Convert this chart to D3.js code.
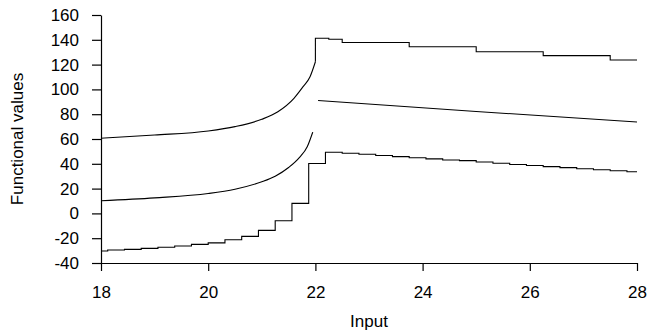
<!DOCTYPE html>
<html>
<head>
<meta charset="utf-8">
<script src="https://cdn.jsdelivr.net/npm/d3@7"></script>
<style>
  body { margin: 0; background: #fff; }
  text { font-family: "Liberation Sans", Arial, sans-serif; }
</style>
</head>
<body>
<div id="chart"></div>
<script>
// tick values
const xTicks = [18, 20, 22, 24, 26, 28]
const yTicks = [-40, -20, 0, 20, 40, 60, 80, 100, 120, 140, 160]

// upper series: smooth part left of 22, then steps
const upperCurveX = [18, 19, 20, 20.5, 21, 21.3, 21.6, 21.77, 21.9, 22]
const upperCurveY = [60.6, 63.2, 66.5, 70, 75.9, 82, 92.8, 102.2, 110.2, 122.3]
const upperStepX = [22, 22, 22.25, 22.5, 23.75, 25, 26.25, 27.5, 28]
const upperStepY = [122.3, 141.2, 140.4, 137.8, 134.4, 130.4, 127.2, 123.7, 123.7]

// middle series, two pieces with a gap at 22
const midLeftX = [18, 19, 20, 20.5, 21, 21.25, 21.5, 21.7, 21.85, 21.95]
const midLeftY = [10.2, 12.5, 16, 19.5, 25.5, 30, 37, 45, 54, 65.5]
const midRightX = [22.05, 25, 28]
const midRightY = [91, 82.2, 73.7]

// lower series: step function
const lowerX = [18, 18.125, 18.4375, 18.75, 19.0625, 19.375, 19.6875, 20, 20.3125, 20.625,
  20.9375, 21.25, 21.5625, 21.875, 22.1875, 22.5, 22.8125, 23.125, 23.4375, 23.75,
  24.0625, 24.375, 24.6875, 25, 25.3125, 25.625, 25.9375, 26.25, 26.5625, 26.875,
  27.1875, 27.5, 27.8125, 28]
const lowerY = [-30.3, -29.5, -29.0, -28.2, -27.3, -26.3, -25.0, -23.8, -21.2, -18.5,
  -13.7, -5.9, 8.1, 40.2, 49.3, 48.5, 47.7, 46.7, 45.8, 44.9,
  44.0, 43.1, 42.6, 41.5, 40.4, 39.4, 38.6, 37.7, 36.9, 36.0,
  35.2, 34.4, 33.6, 33.6]

const options = {
  width: 650,
  height: 330,
  fontSize: '17px',
  padding: { top: 15, left: 101, bottom: 67, right: 13 }
}

const zip = (xs, ys) => xs.map((x, i) => [x, ys[i]])

function getScales () {
  const { width, height, padding } = options
  const xScale = d3.scaleLinear()
    .domain([18, 28])
    .range([padding.left, width - padding.right])
  const yScale = d3.scaleLinear()
    .domain([-40, 160])
    .range([height - padding.bottom, padding.top])
  return { xScale, yScale }
}

function drawAxis (svg, scales) {
  const { xScale, yScale } = scales
  const { height, padding, fontSize } = options
  const xAxis = d3.axisBottom(xScale).tickValues(xTicks).tickSize(8).tickSizeOuter(0)
    .tickPadding(15).tickFormat(d => String(d))
  const yAxis = d3.axisLeft(yScale).tickValues(yTicks).tickSize(9).tickSizeOuter(0)
    .tickPadding(13).tickFormat(d => String(d))
  const gx = svg.append('g')
    .attr('transform', 'translate(0,' + (height - padding.bottom) + ')')
    .call(xAxis)
  const gy = svg.append('g')
    .attr('transform', 'translate(' + padding.left + ',0)')
    .call(yAxis)
  ;[gx, gy].forEach(g => {
    g.selectAll('path, line').attr('stroke', '#000').attr('stroke-width', 1.2)
    g.selectAll('text').attr('fill', '#000').style('font-size', fontSize)
  })
  // axis titles
  svg.append('text')
    .attr('x', (xScale(18) + xScale(28)) / 2)
    .attr('y', 327)
    .attr('text-anchor', 'middle')
    .style('font-size', fontSize)
    .text('Input')
  svg.append('text')
    .attr('transform', 'translate(23,' + ((yScale(-40) + yScale(160)) / 2) + ') rotate(-90)')
    .attr('text-anchor', 'middle')
    .style('font-size', fontSize)
    .text('Functional values')
}

function drawPath (svg, scales, data, curve) {
  const { xScale, yScale } = scales
  const line = d3.line()
    .x(d => xScale(d[0]))
    .y(d => yScale(d[1]))
    .curve(curve)
  svg.append('path')
    .attr('d', line(data))
    .attr('fill', 'none')
    .attr('stroke', '#000')
    .attr('stroke-width', 1.1)
}

function draw () {
  const { width, height } = options
  const svg = d3.select('#chart')
    .append('svg')
    .attr('width', width)
    .attr('height', height)
  const scales = getScales()
  drawAxis(svg, scales)
  drawPath(svg, scales, zip(upperCurveX, upperCurveY), d3.curveMonotoneX)
  drawPath(svg, scales, zip(upperStepX, upperStepY), d3.curveStepAfter)
  drawPath(svg, scales, zip(midLeftX, midLeftY), d3.curveMonotoneX)
  drawPath(svg, scales, zip(midRightX, midRightY), d3.curveMonotoneX)
  drawPath(svg, scales, zip(lowerX, lowerY), d3.curveStepAfter)
}

draw()
</script>
</body>
</html>
